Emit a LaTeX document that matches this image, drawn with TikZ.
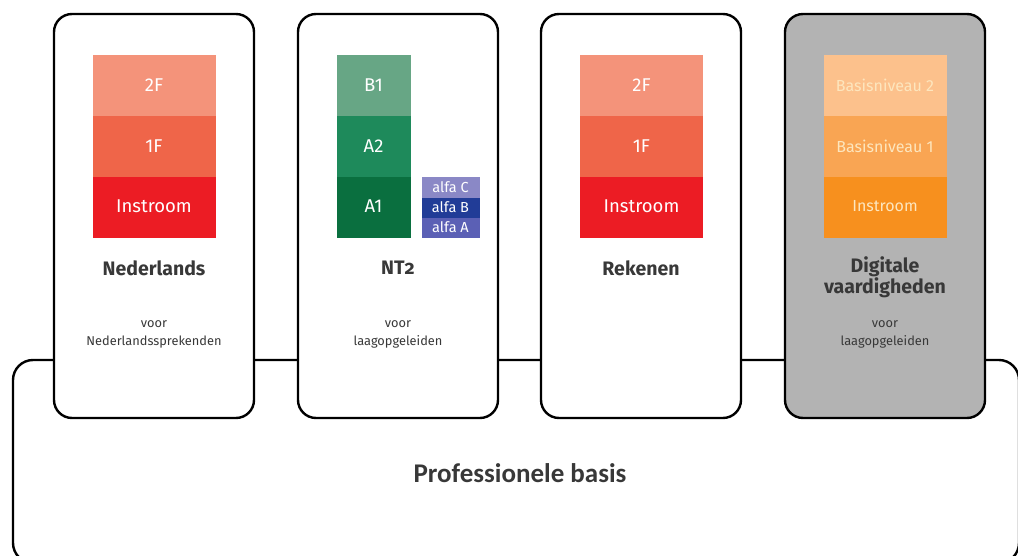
\documentclass[tikz,border=0pt]{standalone}
\usepackage{fontspec}
\setmainfont{Fira Sans}
\newfontfamily\basisfont{Carlito}
\usepackage{tikz}
\usetikzlibrary{positioning}
\definecolor{rood2F}{HTML}{F4937A}
\definecolor{rood1F}{HTML}{EF6549}
\definecolor{roodIn}{HTML}{EC1C24}
\definecolor{groenB1}{HTML}{67A685}
\definecolor{groenA2}{HTML}{1E8A5B}
\definecolor{groenA1}{HTML}{0A6F3F}
\definecolor{alfaC}{HTML}{8A88C6}
\definecolor{alfaB}{HTML}{213C97}
\definecolor{alfaA}{HTML}{5B60B5}
\definecolor{oranje2}{HTML}{FCC18C}
\definecolor{oranje1}{HTML}{F9A553}
\definecolor{oranjeIn}{HTML}{F7901E}
\definecolor{oranjetekst}{HTML}{FDE6BE}
\definecolor{grijs}{HTML}{B3B3B3}
\definecolor{tekstgrijs}{HTML}{383838}

\begin{document}
\begin{tikzpicture}[x=1pt,y=-1pt,
			colbox/.style={draw, line width=2.4pt, rounded corners=18pt, minimum width=200pt, minimum height=404pt, fill=white},
			lvlnode/.style={fill=#1, draw=#1, line width=0.4pt, minimum width=122pt, minimum height=60.6pt, inner sep=0pt, outer sep=0pt, text=white, font=\fontsize{18.5}{20}\selectfont},
			alfanode/.style={fill=#1, draw=#1, line width=0.4pt, minimum width=57pt, minimum height=19.9pt, inner sep=0pt, outer sep=0pt, text=white, font=\fontsize{14.5}{16}\selectfont},
			vaknode/.style={font=\fontsize{19.5}{20}\selectfont\bfseries, text=tekstgrijs, align=center},
			voornode/.style={font=\fontsize{12.8}{18}\selectfont, text=tekstgrijs, align=center}
		]
		\clip (0,0) rectangle (1018,556);

		\node[draw, line width=2.4pt, rounded corners=20pt, minimum width=1006pt, minimum height=203pt] (basis) at (516,461.5) {};
		\node[text=tekstgrijs, font=\basisfont\fontsize{27}{30}\selectfont\bfseries] (basislabel) at (520,473) {Professionele basis};

		\node[colbox] (ned) at (154,216) {};
		\node[colbox] (nt) at (398,216) {};
		\node[colbox] (rek) at (641,216) {};
		\node[colbox, fill=grijs] (dig) at (885,216) {};

		% Nederlands
		\node[lvlnode=roodIn] (nedIn) at (154,206.5) {Instroom};
		\node[lvlnode=rood1F, above=0pt of nedIn] (ned1F) {1F};
		\node[lvlnode=rood2F, above=0pt of ned1F] (ned2F) {2F};
		\node[vaknode] (nedtitel) at (154,268) {Nederlands};
		\node[voornode] (nedvoor) at (154,334) {voor\\Nederlandssprekenden};

		% NT2
		\node[lvlnode=groenA1, minimum width=73pt] (ntA1) at (373.5,206.5) {A1};
		\node[lvlnode=groenA2, minimum width=73pt, above=0pt of ntA1] (ntA2) {A2};
		\node[lvlnode=groenB1, minimum width=73pt, above=0pt of ntA2] (ntB1) {B1};
		\node[alfanode=alfaA] (alfaA) at (450.5,227) {alfa A};
		\node[alfanode=alfaB, above=0pt of alfaA] (alfaB) {alfa B};
		\node[alfanode=alfaC, above=0pt of alfaB] (alfaC) {alfa C};
		\node[vaknode] (nttitel) at (398,268) {NT{\addfontfeature{Numbers=OldStyle}2}};
		\node[voornode] (ntvoor) at (398,334) {voor\\laagopgeleiden};

		% Rekenen
		\node[lvlnode=roodIn] (rekIn) at (641.5,206.5) {Instroom};
		\node[lvlnode=rood1F, above=0pt of rekIn] (rek1F) {1F};
		\node[lvlnode=rood2F, above=0pt of rek1F] (rek2F) {2F};
		\node[vaknode] (rektitel) at (641,268) {Rekenen};

		% Digitale vaardigheden
		\node[lvlnode=oranjeIn, text=oranjetekst, font=\fontsize{16}{18}\selectfont] (digIn) at (885,206.5) {Instroom};
		\node[lvlnode=oranje1, text=oranjetekst, font=\fontsize{16}{18}\selectfont, above=0pt of digIn] (dig1) {Basisniveau 1};
		\node[lvlnode=oranje2, text=oranjetekst, font=\fontsize{16}{18}\selectfont, above=0pt of dig1] (dig2) {Basisniveau 2};
		\node[vaknode] (digtitel) at (885,277) {Digitale\\vaardigheden};
		\node[voornode] (digvoor) at (885,334) {voor\\laagopgeleiden};
	\end{tikzpicture}
\end{document}
